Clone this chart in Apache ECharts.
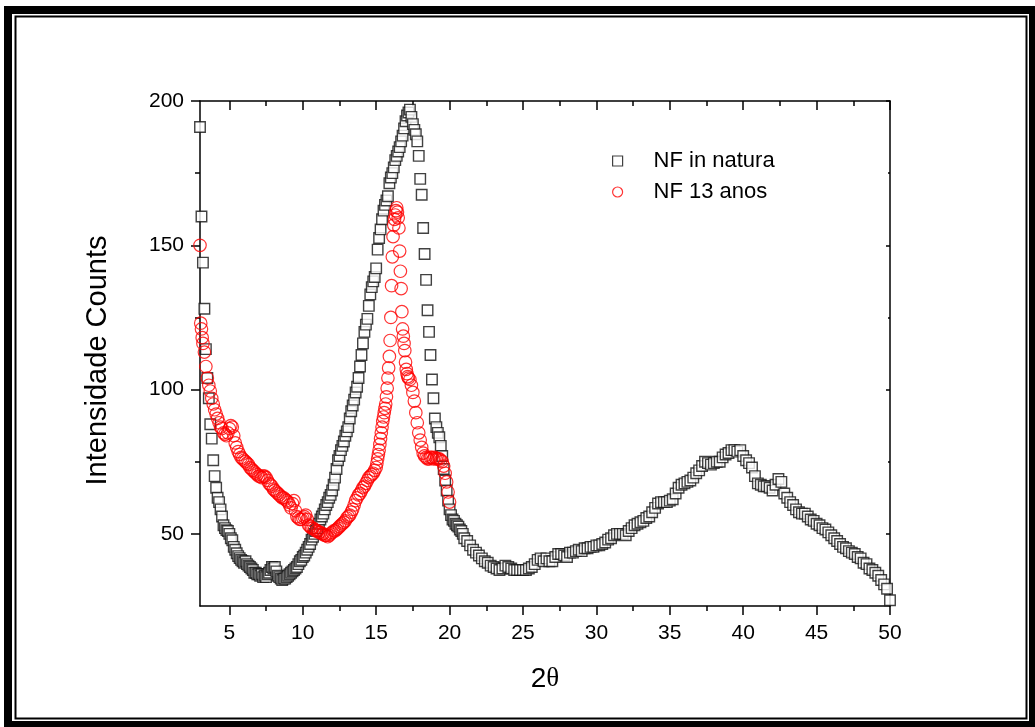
<!DOCTYPE html>
<html><head><meta charset="utf-8">
<script src="https://cdn.jsdelivr.net/npm/echarts@6/dist/echarts.min.js"></script>
<style>html,body{margin:0;padding:0;background:#fff}#c{width:1035px;height:727px}</style>
</head><body><div id="c"></div>
<script>
const xTickValues = [5,10,15,20,25,30,35,40,45,50];
const xMinorValues = [7.5,12.5,17.5,22.5,27.5,32.5,37.5,42.5,47.5];
const yTickValues = [50,100,150,200];
const yMinorValues = [75,125,175];
const seriesNames = ['NF in natura','NF 13 anos'];
const xTitle = '2θ';
const yTitle = 'Intensidade Counts';

const natura = [
[3.0,191],[3.1,160],[3.2,144],[3.3,128],[3.4,114],[3.5,104],[3.6,97],[3.7,88],[3.8,83],[3.9,75.5],
[4.0,70],[4.1,66],[4.2,62.5],[4.3,61],[4.4,58.5],[4.5,56],[4.6,53],[4.7,52],[4.8,51.3],[4.9,51],
[5.0,50],[5.1,48.5],[5.2,47.8],[5.3,45.5],[5.4,44.5],[5.5,43.3],[5.6,42.3],[5.7,41.6],[5.8,41],[5.9,40.5],
[6.0,40],[6.1,40.5],[6.2,39.5],[6.3,39],[6.4,38.5],[6.5,38],[6.6,37.5],[6.7,36.5],[6.8,36.5],[6.9,36],
[7.0,36],[7.1,35.5],[7.2,36],[7.3,35],[7.4,35.5],[7.5,35],[7.6,36],[7.7,36.5],[7.8,37.5],[7.9,38.5],
[8.0,38],[8.1,38.5],[8.2,37],[8.3,35.5],[8.4,35],[8.5,34.5],[8.6,34],[8.7,34.5],[8.8,34.5],[8.9,35],
[9.0,35.5],[9.1,36],[9.2,36.5],[9.3,37],[9.4,37.5],[9.5,38],[9.6,38.5],[9.7,39.5],[9.8,40.5],[9.9,41],
[10.0,42],[10.1,42.5],[10.2,43.5],[10.3,44.5],[10.4,45.5],[10.5,46.5],[10.6,48],[10.7,49],[10.8,50],[10.9,51],
[11.0,52],[11.1,53.5],[11.2,55],[11.3,56],[11.4,57],[11.5,58.5],[11.6,60],[11.7,61],[11.8,62.5],[11.9,63.5],
[12.0,65],[12.1,67],[12.2,69.5],[12.3,72.5],[12.4,75.5],[12.5,77],[12.6,79],[12.7,80.5],[12.8,82],[12.9,84],
[13.0,85.5],[13.1,87],[13.2,90],[13.3,92.5],[13.4,94.5],[13.5,96.5],[13.6,99],[13.7,101],[13.8,104],[13.9,108],
[14.0,112],[14.1,116],[14.2,120],[14.3,122.5],[14.4,124.5],[14.5,129],[14.6,133],[14.7,135.5],[14.8,137.5],[14.9,139],
[15.0,142],[15.1,148.5],[15.2,152.5],[15.3,155.5],[15.4,159],[15.5,162],[15.6,164],[15.7,165.5],[15.8,167],[15.9,171.5],
[16.0,173.5],[16.1,175],[16.2,177],[16.3,179.5],[16.4,181],[16.5,182.5],[16.6,184],[16.7,186],[16.8,188],[16.9,190.5],
[17.0,193],[17.1,195],[17.2,196],[17.3,197],[17.4,194.5],[17.5,192],[17.6,190],[17.7,188.5],[17.8,186],[17.9,181],
[18.0,173],[18.1,167.5],[18.2,156],[18.3,147],[18.4,138],[18.5,127.5],[18.6,120],[18.7,112],[18.8,103.5],[18.9,97],
[19.0,90],[19.1,87],[19.2,85],[19.3,83.5],[19.4,80.5],[19.5,77],[19.6,72.5],[19.7,68.5],[19.8,65],[19.9,61.5],
[20.0,58.5],[20.1,56.5],[20.2,55],[20.3,54.5],[20.4,53.5],[20.5,53],[20.6,52.5],[20.7,51.5],[20.8,51],[20.9,50],
[21.0,48.5],[21.2,47.5],[21.4,46],[21.6,44.5],[21.8,43.5],[22.0,42.5],[22.2,41.5],[22.4,40.5],[22.6,40],[22.8,39],
[23.0,38.5],[23.2,38],[23.4,37.5],[23.6,38],[23.8,39],[24.0,38.5],[24.2,38],[24.4,37.5],[24.6,37.5],[24.8,37.5],
[25.0,37.5],[25.2,37.5],[25.4,38],[25.6,38.5],[25.8,39.5],[26.0,41],[26.2,41.5],[26.4,40.5],[26.6,41.5],[26.8,40.5],
[27.0,40.5],[27.2,42],[27.4,43],[27.6,43],[27.8,42.5],[28.0,42],[28.2,43.5],[28.4,43.5],[28.6,44],[28.8,44.5],
[29.0,44],[29.2,45],[29.4,45],[29.6,45.5],[29.8,45.5],[30.0,46],[30.2,46],[30.4,46.5],[30.6,47],[30.8,48],
[31.0,48.5],[31.2,49.5],[31.4,50],[31.6,50],[31.8,50],[32.0,49.5],[32.2,51],[32.4,52],[32.6,53],[32.8,53.5],
[33.0,54],[33.2,54.5],[33.4,55.5],[33.6,56],[33.8,57.5],[34.0,59],[34.2,60.5],[34.4,61],[34.6,61],[34.8,61],
[35.0,61.5],[35.2,62],[35.4,64],[35.6,66],[35.8,67],[36.0,67.5],[36.2,68],[36.4,68.5],[36.6,69.5],[36.8,71],
[37.0,72],[37.2,73.5],[37.4,75],[37.6,74.5],[37.8,74],[38.0,74.5],[38.2,75],[38.4,75],[38.6,76.5],[38.8,77.5],
[39.0,78],[39.2,79],[39.4,79],[39.6,78.5],[39.8,79],[40.0,77],[40.2,75.5],[40.4,74.5],[40.6,73],[40.8,70],
[41.0,67.5],[41.2,67],[41.4,66.5],[41.6,66.5],[41.8,66],[42.0,65],[42.2,67],[42.4,69],[42.6,68],[42.8,64],
[43.0,62.5],[43.2,61],[43.4,60],[43.6,58.5],[43.8,57.5],[44.0,57],[44.2,57],[44.4,56],[44.6,55],[44.8,54.5],
[45.0,53.5],[45.2,53],[45.4,52],[45.6,51.5],[45.8,50.5],[46.0,49.5],[46.2,48.5],[46.4,47.5],[46.6,46.5],[46.8,45.5],
[47.0,45],[47.2,44],[47.4,43.5],[47.6,43],[47.8,42],[48.0,41.5],[48.2,40],[48.4,39.5],[48.6,38],[48.8,37.5],
[49.0,36.5],[49.2,35.5],[49.4,34],[49.6,32.5],[49.8,31],[50.0,27]
];

const anos13 = [
[3.0,150],[3.05,123],[3.1,121],[3.15,118],[3.2,116],[3.3,113],[3.4,108],[3.5,104],[3.6,101.5],[3.7,99.5],
[3.8,97],[3.9,95],[4.0,93],[4.1,91.5],[4.2,90],[4.3,88.5],[4.4,87],[4.5,86.5],[4.6,85],[4.7,84.5],
[4.8,84],[4.9,85],[5.0,86.5],[5.1,87.5],[5.2,87],[5.3,84],[5.4,81.5],[5.5,80],[5.6,78.5],[5.7,77.5],
[5.8,76.5],[5.9,76],[6.0,75.5],[6.1,75],[6.2,74.5],[6.3,74],[6.4,73],[6.5,72.5],[6.6,72],[6.7,71.5],
[6.8,71],[6.9,70.5],[7.0,70],[7.1,70],[7.2,69.5],[7.3,70],[7.4,70],[7.5,69.5],[7.6,68.5],[7.7,67.5],
[7.8,67],[7.9,66.5],[8.0,65.5],[8.1,65],[8.2,64.5],[8.3,64],[8.4,63.5],[8.5,63],[8.6,62.5],[8.7,62.5],
[8.8,62],[8.9,61.5],[9.0,61],[9.1,60],[9.2,59],[9.3,60.5],[9.4,61.5],[9.5,58],[9.6,56],[9.7,55.5],
[9.8,55],[9.9,55],[10.0,55.5],[10.1,56],[10.2,56.5],[10.3,55],[10.4,53],[10.5,52.5],[10.6,52],[10.7,52],
[10.8,51.5],[10.9,51],[11.0,51],[11.1,50.5],[11.2,50.5],[11.3,50],[11.4,50],[11.5,49.5],[11.6,49.5],[11.7,49],
[11.8,49.5],[11.9,50],[12.0,50.5],[12.1,51],[12.2,51],[12.3,51.5],[12.4,52],[12.5,52.5],[12.6,53],[12.7,53.5],
[12.8,54],[12.9,54.5],[13.0,55.5],[13.1,56],[13.2,56.5],[13.3,57.5],[13.4,58.5],[13.5,60],[13.6,61.5],[13.7,62.5],
[13.8,63.5],[13.9,64],[14.0,65],[14.1,66],[14.2,66.5],[14.3,67.5],[14.4,68.5],[14.5,69.5],[14.6,70],[14.7,70.5],
[14.8,71],[14.9,72],[15.0,73],[15.05,74.5],[15.1,76],[15.15,77.5],[15.2,79],[15.25,81],[15.3,83],[15.35,85],
[15.4,87],[15.45,89],[15.5,90.5],[15.55,92],[15.6,93.5],[15.65,95],[15.7,97.5],[15.75,100.5],[15.8,104],[15.85,107.5],
[15.9,111.5],[15.95,117],[16.0,125],[16.05,136],[16.1,146],[16.15,153],[16.2,157],[16.25,159],[16.3,160.5],[16.35,162],
[16.4,163],[16.45,161.5],[16.5,159.5],[16.55,156],[16.6,148],[16.65,141],[16.7,135],[16.75,127],[16.8,121],[16.85,118.5],
[16.9,116],[16.95,113.5],[17.0,109.5],[17.05,107],[17.1,105.5],[17.15,104.5],[17.2,104],[17.3,103.5],[17.4,101.5],[17.5,99],
[17.6,96],[17.7,92],[17.8,88.5],[17.9,85],[18.0,82.5],[18.1,80],[18.2,78],[18.3,77],[18.4,76.5],[18.5,76],
[18.6,76],[18.7,76.5],[18.8,76.5],[18.9,76],[19.0,76.5],[19.1,76],[19.2,76],[19.3,76],[19.4,75.5],[19.5,75],
[19.6,73.5],[19.7,71],[19.8,68],[19.9,64.5],[20.0,61]
];

const FONT = 'Liberation Sans, Arial, sans-serif';
const BLACK = '#000';
const chart = echarts.init(document.getElementById('c'), null, {renderer: 'canvas'});

function tickAxis(extra) {
  return Object.assign({
    type: 'value', min: 3, max: 50,
    splitLine: {show: false},
    axisLine: {show: false, onZero: false, lineStyle: {color: BLACK, width: 1.5}},
    axisLabel: {show: false},
    axisTick: {show: true, lineStyle: {color: BLACK, width: 1.5}}
  }, extra);
}

const option = {
  animation: false,
  backgroundColor: '#fff',
  graphic: [
    {type: 'rect', z: -20, shape: {x: 4, y: 6, width: 1031, height: 721}, style: {fill: BLACK}},
    {type: 'rect', z: -19, shape: {x: 12, y: 14, width: 1017, height: 707}, style: {fill: '#fff'}},
    {type: 'rect', z: -18, shape: {x: 15.5, y: 16.5, width: 1011, height: 702}, style: {fill: '#fff', stroke: BLACK, lineWidth: 2}}
  ],
  grid: {left: 200, right: 145, top: 101, bottom: 121, containLabel: false},
  legend: {
    orient: 'vertical', left: 612, top: 150, padding: 0, itemGap: 9,
    itemWidth: 62, itemHeight: 10, symbolKeepAspect: true,
    itemStyle: {borderWidth: 1.2},
    textStyle: {fontFamily: FONT, fontSize: 22, lineHeight: 22, color: BLACK},
    data: [
      {name: seriesNames[0], icon: 'path://M0 0H10V10H0Z'},
      {name: seriesNames[1], icon: 'circle'}
    ]
  },
  xAxis: [
    tickAxis({position: 'bottom',
      axisLine: {show: true, onZero: false, lineStyle: {color: BLACK, width: 1.5}},
      axisTick: {show: true, inside: false, length: 9, customValues: xTickValues, lineStyle: {color: BLACK, width: 1.5}},
      axisLabel: {show: true, customValues: xTickValues, margin: 17, fontSize: 21, fontFamily: FONT, color: BLACK},
      name: '{a|2}{b|θ}', nameLocation: 'middle', nameGap: 59,
      nameTextStyle: {fontSize: 28, fontFamily: FONT, color: BLACK,
        rich: {a: {fontSize: 28, fontFamily: FONT, color: BLACK}, b: {fontSize: 27, fontFamily: 'Liberation Serif, serif', color: BLACK}}}}),
    tickAxis({position: 'bottom',
      axisTick: {show: true, inside: false, length: 5, customValues: xMinorValues, lineStyle: {color: BLACK, width: 1.5}}}),
    tickAxis({position: 'top',
      axisLine: {show: true, onZero: false, lineStyle: {color: BLACK, width: 1.5}},
      axisTick: {show: true, inside: true, length: 9, customValues: xTickValues, lineStyle: {color: BLACK, width: 1.5}}}),
    tickAxis({position: 'top',
      axisTick: {show: true, inside: true, length: 5, customValues: xMinorValues, lineStyle: {color: BLACK, width: 1.5}}})
  ],
  yAxis: [
    tickAxis({min: 25, max: 200, position: 'left',
      axisLine: {show: true, onZero: false, lineStyle: {color: BLACK, width: 1.5}},
      axisTick: {show: true, inside: false, length: 9, customValues: yTickValues, lineStyle: {color: BLACK, width: 1.5}},
      axisLabel: {show: true, customValues: yTickValues, margin: 16, fontSize: 21, fontFamily: FONT, color: BLACK},
      name: yTitle, nameLocation: 'middle', nameGap: 88,
      nameTextStyle: {fontSize: 29, fontFamily: FONT, color: BLACK, padding: [0, 14, 0, 0]}}),
    tickAxis({min: 25, max: 200, position: 'left',
      axisTick: {show: true, inside: false, length: 5, customValues: yMinorValues, lineStyle: {color: BLACK, width: 1.5}}}),
    tickAxis({min: 25, max: 200, position: 'right',
      axisLine: {show: true, onZero: false, lineStyle: {color: BLACK, width: 1.5}},
      axisTick: {show: true, inside: true, length: 4, customValues: yTickValues, lineStyle: {color: BLACK, width: 1.5}}}),
    tickAxis({min: 25, max: 200, position: 'right',
      axisTick: {show: true, inside: true, length: 2, customValues: yMinorValues, lineStyle: {color: BLACK, width: 1.5}}})
  ],
  series: [
    {name: seriesNames[0], type: 'scatter', xAxisIndex: 0, yAxisIndex: 0, data: natura,
      symbol: 'rect', symbolSize: 10.5, clip: true,
      itemStyle: {color: '#fff', borderColor: '#111', borderWidth: 1.4},
      emphasis: {disabled: true}},
    {name: seriesNames[1], type: 'scatter', xAxisIndex: 0, yAxisIndex: 0, data: anos13,
      symbol: 'circle', symbolSize: 12.5, clip: true,
      itemStyle: {color: 'rgba(255,255,255,0)', borderColor: '#ff0000', borderWidth: 1.2},
      emphasis: {disabled: true}}
  ]
};
chart.setOption(option);
</script>
</body></html>
